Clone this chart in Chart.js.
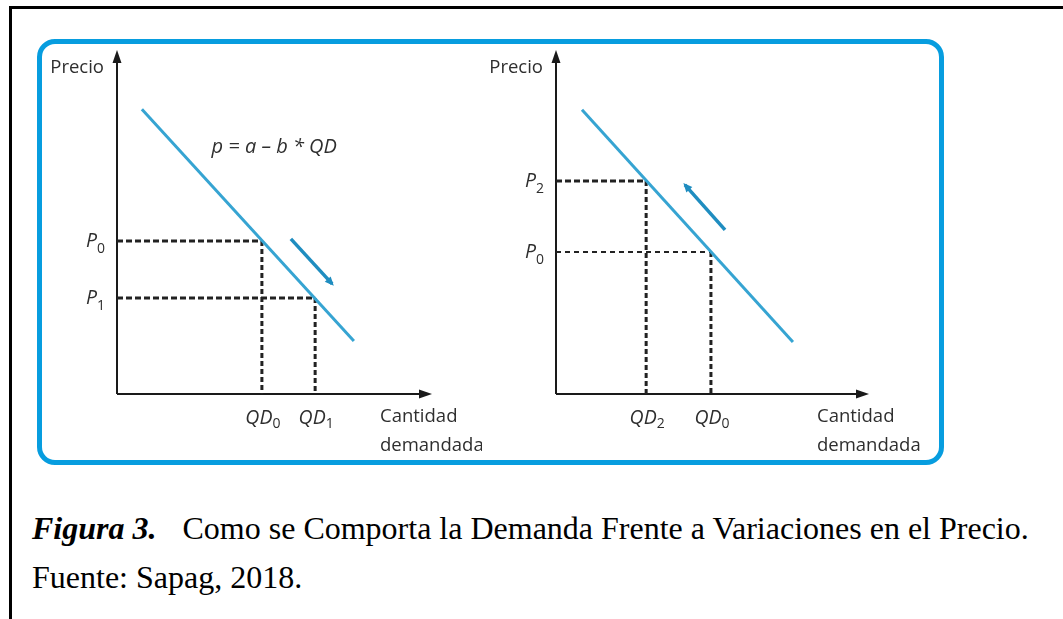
<!DOCTYPE html>
<html>
<head>
<meta charset="utf-8">
<script src="https://cdn.jsdelivr.net/npm/chart.js@4.4.1/dist/chart.umd.min.js"></script>
<style>
  body { margin: 0; width: 1063px; height: 619px; position: relative; overflow: hidden; background: #fff; }
  #frame { position: absolute; left: 9px; top: 6px; width: 1100px; height: 700px; border-left: 3px solid #000; border-top: 3px solid #000; }
  #box { position: absolute; left: 37px; top: 39px; width: 897px; height: 416px; border: 5px solid #079ddf; border-radius: 18px; }
  canvas { position: absolute; }
  .cap { position: absolute; left: 32px; font-family: "Liberation Serif", "Times New Roman", serif; font-size: 32px; line-height: 32px; color: #000; white-space: nowrap; }
</style>
</head>
<body>
<div id="frame"></div>
<div id="box"></div>
<canvas id="leftChart" width="440" height="416" style="left:42px; top:44px"></canvas>
<canvas id="rightChart" width="457" height="416" style="left:482px; top:44px"></canvas>
<div class="cap" style="top:512px"><b><i>Figura 3.</i></b><span style="margin-left:26px">Como se Comporta la Demanda Frente a Variaciones en el Precio.</span></div>
<div class="cap" style="top:561px">Fuente: Sapag, 2018.</div>

<script>
// left panel: price falls from P0 to P1
const leftCurveX = [0.79, 7.52];
const leftCurveY = [8.28, 1.54];
const leftQty = [4.6, 6.29];
const leftPrice = [4.45, 2.79];
const leftQtyLabels = [['QD', '0'], ['QD', '1']];
const leftPriceLabels = [['P', '0'], ['P', '1']];
const leftMoveX = [5.52, 6.83];
const leftMoveY = [4.51, 3.2];

// right panel: price rises from P0 to P2
const rightCurveX = [0.83, 7.57];
const rightCurveY = [8.26, 1.51];
const rightQty = [2.88, 4.95];
const rightPrice = [6.19, 4.13];
const rightQtyLabels = [['QD', '2'], ['QD', '0']];
const rightPriceLabels = [['P', '2'], ['P', '0']];
const rightMoveX = [5.4, 4.12];
const rightMoveY = [4.77, 6.08];

const axisTitleY = 'Precio';
const axisTitleX = ['Cantidad', 'demandada'];
const formula = 'p = a \u2013 b * QD';

const SANS = '"Open Sans", "DejaVu Sans", sans-serif';
const INK = '#2e2e2e';

function head(ctx, tx, ty, ang, len, half) {
  const c = Math.cos(ang), s = Math.sin(ang);
  ctx.beginPath();
  ctx.moveTo(tx, ty);
  ctx.lineTo(tx - len * c + half * s, ty - len * s - half * c);
  ctx.lineTo(tx - len * c - half * s, ty - len * s + half * c);
  ctx.closePath();
  ctx.fill();
}

function subWidth(ctx, main, sub) {
  ctx.font = 'italic 19.5px ' + SANS;
  const a = ctx.measureText(main).width;
  ctx.font = '14px ' + SANS;
  return a + ctx.measureText(sub).width;
}

function subLabel(ctx, main, sub, x, y, dy) {
  ctx.textAlign = 'left';
  ctx.textBaseline = 'alphabetic';
  ctx.font = 'italic 19.5px ' + SANS;
  ctx.fillText(main, x, y);
  const w = ctx.measureText(main).width;
  ctx.font = '14px ' + SANS;
  ctx.fillText(sub, x + w, y + dy);
}

const figurePlugin = {
  id: 'figure',
  beforeDatasetsDraw(chart) {
    const { ctx, chartArea: a, scales: { x, y } } = chart;
    const ox = x.getPixelForValue(0), oy = y.getPixelForValue(0);
    ctx.save();
    ctx.strokeStyle = '#1a1a1a';
    ctx.fillStyle = '#1a1a1a';
    ctx.lineWidth = 2;
    ctx.beginPath();
    ctx.moveTo(ox, oy); ctx.lineTo(a.right - 8, oy);
    ctx.moveTo(ox, oy); ctx.lineTo(ox, a.top + 8);
    ctx.stroke();
    head(ctx, a.right, oy, 0, 13, 4.5);
    head(ctx, ox, a.top, -Math.PI / 2, 13, 4.5);
    ctx.restore();
  },
  afterDatasetsDraw(chart, args, opts) {
    const { ctx, chartArea: a, scales: { x, y } } = chart;
    const ox = x.getPixelForValue(0), oy = y.getPixelForValue(0);
    ctx.save();

    // arrow head on the movement arrow
    const pts = chart.getDatasetMeta(1).data;
    const p0 = pts[0], p1 = pts[pts.length - 1];
    ctx.fillStyle = '#1f8dc0';
    head(ctx, p1.x + (p1.x - p0.x) * 0.04, p1.y + (p1.y - p0.y) * 0.04,
      Math.atan2(p1.y - p0.y, p1.x - p0.x), 9, 4);

    ctx.fillStyle = INK;
    ctx.font = '18.5px ' + SANS;
    ctx.textAlign = 'right';
    ctx.textBaseline = 'alphabetic';
    ctx.fillText(axisTitleY, ox - 13, a.top + 23);

    ctx.textAlign = 'left';
    ctx.fillText(axisTitleX[0], a.right - 52, oy + 28);
    ctx.fillText(axisTitleX[1], a.right - 52, oy + 57);

    opts.price.forEach((p, i) => {
      const [m, s] = opts.priceLabels[i];
      const w = subWidth(ctx, m, s);
      subLabel(ctx, m, s, ox - 12 - w, y.getPixelForValue(p) + 6, 6);
    });
    opts.qty.forEach((q, i) => {
      const [m, s] = opts.qtyLabels[i];
      const w = subWidth(ctx, m, s);
      subLabel(ctx, m, s, x.getPixelForValue(q) - w / 2 + 1, oy + 30, 4);
    });

    if (opts.formula) {
      ctx.font = 'italic 20px ' + SANS;
      ctx.textAlign = 'left';
      ctx.fillText(opts.formula, x.getPixelForValue(3.0), y.getPixelForValue(7.0));
    }
    ctx.restore();
  }
};

function pairs(xs, ys) {
  return xs.map((v, i) => ({ x: v, y: ys[i] }));
}

function buildChart(id, cfg) {
  const datasets = [
    { data: pairs(cfg.curveX, cfg.curveY), borderColor: '#36a4d2', borderWidth: 3 },
    { data: pairs(cfg.moveX, cfg.moveY), borderColor: '#1f8dc0', borderWidth: 3.5 }
  ];
  cfg.price.forEach((p, i) => {
    const q = cfg.qty[i];
    const thin = cfg.thinRow === i;
    datasets.push({
      data: [{ x: 0, y: p }, { x: q, y: p }],
      borderColor: '#222', borderWidth: thin ? 2 : 3, borderDash: thin ? [5, 4] : [6, 3]
    });
    datasets.push({
      data: [{ x: q, y: p }, { x: q, y: 0 }],
      borderColor: '#222', borderWidth: 3, borderDash: [5, 3]
    });
  });
  datasets.forEach(d => { d.showLine = true; d.pointRadius = 0; d.borderCapStyle = 'butt'; });

  return new Chart(document.getElementById(id), {
    type: 'scatter',
    data: { datasets },
    options: {
      responsive: false,
      animation: false,
      devicePixelRatio: 1,
      layout: { padding: cfg.padding },
      scales: {
        x: { type: 'linear', min: 0, max: 10, display: false },
        y: { type: 'linear', min: 0, max: 10, display: false }
      },
      plugins: {
        legend: { display: false },
        tooltip: { enabled: false },
        figure: {
          price: cfg.price, qty: cfg.qty,
          priceLabels: cfg.priceLabels, qtyLabels: cfg.qtyLabels,
          formula: cfg.formula
        }
      }
    },
    plugins: [figurePlugin]
  });
}

buildChart('leftChart', {
  curveX: leftCurveX, curveY: leftCurveY,
  moveX: leftMoveX, moveY: leftMoveY,
  qty: leftQty, price: leftPrice,
  qtyLabels: leftQtyLabels, priceLabels: leftPriceLabels,
  formula: formula,
  padding: { left: 75, top: 6, right: 50, bottom: 66 }
});

buildChart('rightChart', {
  curveX: rightCurveX, curveY: rightCurveY,
  moveX: rightMoveX, moveY: rightMoveY,
  qty: rightQty, price: rightPrice,
  qtyLabels: rightQtyLabels, priceLabels: rightPriceLabels,
  thinRow: 1,
  padding: { left: 74, top: 6, right: 70, bottom: 66 }
});
</script>
</body>
</html>
